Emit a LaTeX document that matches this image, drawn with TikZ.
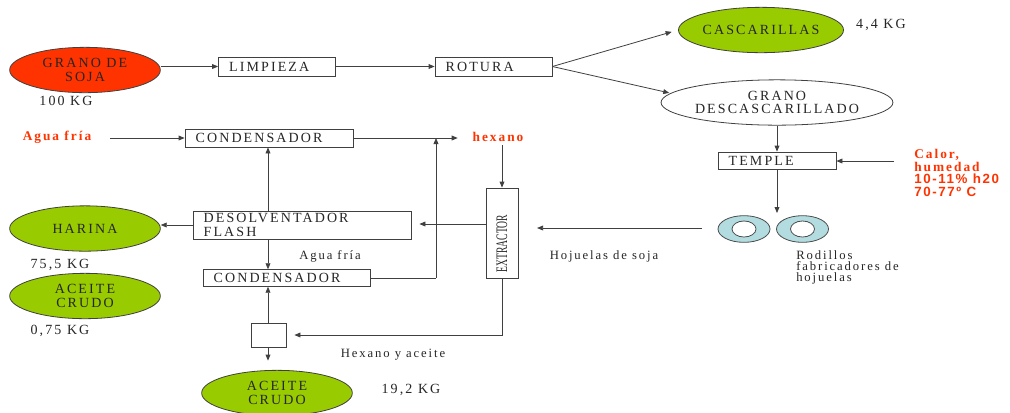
\documentclass[tikz,border=0pt]{standalone}
\usepackage{fontspec}
\setmainfont{Liberation Serif}
\newfontfamily\wide[LetterSpace=15]{Liberation Serif}
\newfontfamily\widesans[LetterSpace=12]{Liberation Sans}
\usetikzlibrary{shapes.geometric,arrows.meta}
\definecolor{soyred}{HTML}{FF3300}
\definecolor{leaf}{HTML}{99CC00}
\definecolor{lblred}{HTML}{FF3300}
\definecolor{roll}{HTML}{B2DCE0}
\begin{document}
\begin{tikzpicture}[x=0.75pt,y=-0.75pt,
  every node/.style={inner sep=0pt},
  txt/.style={font=\wide\fontsize{10.5}{10}\selectfont, text=black!85},
  lc/.style={font=\wide\fontsize{9.5}{8.5}\selectfont, text=black!85},
  box/.style={draw=black!75, line width=0.6pt, fill=white, align=left, inner xsep=8pt, inner ysep=0pt, txt},
  ell/.style={ellipse, draw=black!75, line width=0.6pt, minimum width=113pt, minimum height=34pt, align=center, txt},
  arr/.style={draw=black!75, line width=0.6pt, -{Triangle[length=4.5pt,width=3.6pt]}},
  ln/.style={draw=black!75, line width=0.6pt},
  redlbl/.style={font=\wide\bfseries\fontsize{10}{9.4}\selectfont, text=lblred},
  rollout/.style={ellipse, draw=black!70, line width=0.6pt, fill=roll, minimum width=39pt, minimum height=20pt},
  rollin/.style={ellipse, draw=black!70, line width=0.6pt, fill=white, minimum width=18pt, minimum height=12pt}
]
\useasboundingbox (0,0) rectangle (1010,412);
\fill[white] (0,0) rectangle (1010,412);
\clip (0,0) rectangle (1010,412);

% top row
\node[ell, fill=soyred] (soja) at (85,70) {GRANO DE\\SOJA};
\node[txt] (kg100) at (66,101) {100 KG};
\node[box, text width=71.75pt, minimum height=14.25pt] (limp) at (277,66.5) {LIMPIEZA};
\node[box, text width=71.75pt, minimum height=14.25pt] (rot) at (493.5,66.5) {ROTURA};
\node[ell, fill=leaf, minimum width=114pt] (casc) at (761,30) {CASCARILLAS};
\node[txt] (kg44) at (881,25) {4,4 KG};
\node[ell, fill=white, minimum width=164pt] (gd) at (777,102.5) {GRANO\\DESCASCARILLADO};

% temple and rollers
\node[box, text width=72.5pt, minimum height=12.75pt] (temple) at (777,160.5) {TEMPLE};
\node[redlbl, anchor=north west, align=left] (calor) at (914,149)
  {Calor,\\humedad\\{\widesans\bfseries 10-11\% h20}\\{\widesans\bfseries 70-77º C}};
\coordinate (calin) at (894,161);
\node[rollout] (r1) at (744,229) {};
\node[rollin] (r1i) at (744,229) {};
\node[rollout] (r2) at (802.5,229) {};
\node[rollin] (r2i) at (802.5,229) {};
\coordinate (rtop) at (777,213);
\coordinate (rl) at (702,228);
\node[lc, anchor=north west, align=left, font=\wide\fontsize{9.5}{8.5}\selectfont] (rodtxt) at (796,250)
  {Rodillos\\fabricadores de\\hojuelas};
\node[lc] (hoj) at (604,256) {Hojuelas de soja};

% extractor
\node[draw=black!75, line width=0.6pt, fill=white, minimum width=24pt, minimum height=67.5pt] (extr) at (502,233) {};
\node[rotate=90, text=black!85] (extrtxt) at (502,243.5)
  {\scalebox{0.6}[1]{\fontsize{12}{12}\selectfont EXTRACTOR}};
\node[redlbl] (hex) at (498,137) {hexano};
\coordinate (hexb) at (502,145);

% left column
\node[redlbl] (agua1) at (57,137) {Agua fría};
\coordinate (agua1e) at (110,138);
\node[box, text width=110pt, minimum height=13.5pt] (cond1) at (269,138) {CONDENSADOR};
\node[box, text width=147.5pt, minimum height=21pt] (desol) at (302,225) {DESOLVENTADOR\\FLASH};
\node[ell, fill=leaf] (harina) at (85,228.5) {HARINA};
\node[txt] (kg755) at (60,265) {75,5 KG};
\node[ell, fill=leaf] (ac1) at (85,296) {ACEITE\\CRUDO};
\node[txt] (kg075) at (60,331) {0,75 KG};
\node[lc] (agua2) at (330,256) {Agua fría};
\node[box, text width=109.25pt, minimum height=12.5pt] (cond2) at (286.5,278) {CONDENSADOR};
\node[draw=black!75, line width=0.6pt, fill=white, minimum width=26.25pt, minimum height=18pt] (sep) at (268.5,335) {};
\node[lc] (hya) at (393,355) {Hexano y aceite};
\node[ell, fill=leaf] (ac2) at (277,393) {ACEITE\\CRUDO};
\node[txt] (kg192) at (411,390) {19,2 KG};
\coordinate (riser) at (436,278);

% connectors
\draw[arr] (limp.west -| soja.east) -- (limp.west);
\draw[arr] (limp.east) -- (rot.west);
\draw[arr, shorten >=5pt] (rot.east) -- (casc.west);
\draw[arr, shorten >=1pt] (rot.east) -- (gd.175);
\draw[arr] (gd.south) -- (temple.north);
\draw[arr] (calin) -- (temple.east |- calin);
\draw[arr] (temple.south) -- (rtop);
\draw[arr, shorten >=14pt] (rl) -- (rl -| extr.east);
\draw[arr] (hexb) -- (extr.north);
\draw[arr, shorten >=6pt] (extr.west |- 0,224) -- (desol.east |- 0,224);
\draw[arr] (desol.west) -- (desol.west -| harina.east);
\draw[arr] (desol.north -| 268,0) -- (cond1.south -| 268,0);
\draw[arr] (desol.south -| 268,0) -- (cond2.north -| 268,0);
\draw[arr] (agua1e) -- (cond1.west);
\draw[arr, shorten >=11pt] (cond1.east) -- (hex.west |- cond1.east);
\draw[ln] (cond2.east) -- (riser);
\draw[arr] (riser) -- (riser |- cond1.east);
\draw[arr] (sep.north -| 268,0) -- (cond2.south -| 268,0);
\draw[arr, shorten >=6pt] (extr.south) |- (sep.east);
\draw[arr, shorten >=7pt] (sep.south -| 268,0) -- (ac2.north -| 268,0);
\end{tikzpicture}
\end{document}
